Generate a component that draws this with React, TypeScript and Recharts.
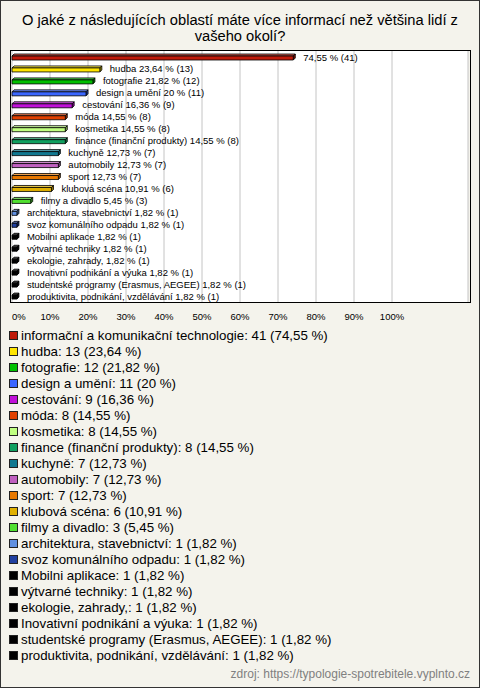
import React from 'react';
import { BarChart, Bar, XAxis, YAxis, CartesianGrid, LabelList } from 'recharts';

const categories = [
  'informační a komunikační technologie',
  'hudba',
  'fotografie',
  'design a umění',
  'cestování',
  'móda',
  'kosmetika',
  'finance (finanční produkty)',
  'kuchyně',
  'automobily',
  'sport',
  'klubová scéna',
  'filmy a divadlo',
  'architektura, stavebnictví',
  'svoz komunálního odpadu',
  'Mobilni aplikace',
  'výtvarné techniky',
  'ekologie, zahrady,',
  'Inovativní podnikání a výuka',
  'studentské programy (Erasmus, AEGEE)',
  'produktivita, podnikání, vzdělávání',
];

const counts = [41, 13, 12, 11, 9, 8, 8, 8, 7, 7, 7, 6, 3, 1, 1, 1, 1, 1, 1, 1, 1];

const percents = [
  74.55, 23.64, 21.82, 20, 16.36, 14.55, 14.55, 14.55, 12.73, 12.73, 12.73, 10.91, 5.45, 1.82, 1.82, 1.82,
  1.82, 1.82, 1.82, 1.82, 1.82,
];

const colors = [
  '#c01a0a', '#ffe500', '#00c000', '#3a66ff', '#c010d8', '#e04000', '#c0ff80', '#10a060', '#107890',
  '#c060c0', '#e87800', '#e0b000', '#50e030', '#6090e0', '#2040a0', '#000000', '#000000', '#000000',
  '#000000', '#000000', '#000000',
];

const xTicks = [0, 10, 20, 30, 40, 50, 60, 70, 80, 90, 100];

const FONT = '"Liberation Sans", Arial, sans-serif';

const data = categories.map((name, i) => ({ name, value: percents[i], count: counts[i], color: colors[i] }));

const fmt = (v: number) => String(v).replace('.', ',');

// mix a hex colour toward white (amt > 0) or black (amt < 0)
const shade = (hex: string, amt: number) => {
  const n = parseInt(hex.slice(1), 16);
  const ch = [(n >> 16) & 255, (n >> 8) & 255, n & 255].map((c) =>
    Math.round(amt > 0 ? c + (255 - c) * amt : c * (1 + amt))
  );
  return `rgb(${ch.join(',')})`;
};

const Bar3D = (props: any) => {
  const { x, y, width, height, index } = props;
  const color = colors[index] ?? '#000';
  const d = 2;
  const w = Math.max(width, d + 1);
  return (
    <g stroke="#000" strokeWidth={0.8} strokeLinejoin="round">
      <polygon
        points={`${x},${y + d} ${x + d},${y} ${x + w},${y} ${x + w - d},${y + d}`}
        fill={shade(color, 0.3)}
      />
      <polygon
        points={`${x + w - d},${y + d} ${x + w},${y} ${x + w},${y + height - d} ${x + w - d},${y + height}`}
        fill={shade(color, -0.35)}
      />
      <rect x={x} y={y + d} width={w - d} height={height - d} fill={color} />
    </g>
  );
};

const BarLabel = (props: any) => {
  const { x, y, width, height, index } = props;
  const text =
    index === 0
      ? `${fmt(percents[index])} % (${counts[index]})`
      : `${categories[index]} ${fmt(percents[index])} % (${counts[index]})`;
  return (
    <text x={x + width + 8} y={y + height / 2} dominantBaseline="central" fontSize={9.5} fontFamily={FONT} fill="#000">
      {text}
    </text>
  );
};

const Tick = (props: any) => {
  const { x, y, payload } = props;
  return (
    <text
      x={x}
      y={y}
      dy="0.71em"
      textAnchor={payload.value === 0 ? 'start' : 'middle'}
      fontSize={9.5}
      fontFamily={FONT}
      fill="#000"
    >
      {payload.value}%
    </text>
  );
};

export default function App() {
  return (
    <div
      style={{
        position: 'absolute',
        left: 0,
        top: 0,
        width: 480,
        height: 688,
        background: '#f4f3ec',
        fontFamily: FONT,
        overflow: 'hidden',
      }}
    >
      <div
        style={{
          position: 'absolute',
          left: 0,
          top: 12,
          width: 480,
          textAlign: 'center',
          fontSize: 14.7,
          lineHeight: '16px',
          color: '#000',
        }}
      >
        O jaké z následujících oblastí máte více informací než většina lidí z
        <br />
        vašeho okolí?
      </div>

      <div style={{ position: 'absolute', left: 0, top: 0 }}>
        <BarChart
          width={480}
          height={340}
          data={data}
          layout="vertical"
          margin={{ top: 51, right: 12, left: 12, bottom: 8 }}
        >
          <CartesianGrid horizontal={false} stroke="#c4c4c4" fill="#ffffff" />
          <XAxis
            type="number"
            domain={[0, 120]}
            ticks={xTicks}
            axisLine={false}
            tickLine={false}
            tickMargin={5}
            height={30}
            tick={<Tick />}
          />
          <YAxis type="category" dataKey="name" hide />
          <Bar dataKey="value" barSize={6} shape={<Bar3D />} isAnimationActive={false}>
            <LabelList dataKey="value" content={<BarLabel />} />
          </Bar>
        </BarChart>
      </div>

      {/* plot frame */}
      <div
        style={{
          position: 'absolute',
          left: 10,
          top: 50,
          width: 461,
          height: 253,
          border: '1px solid #000',
          boxSizing: 'border-box',
          pointerEvents: 'none',
        }}
      />

      <div style={{ position: 'absolute', left: 9, top: 328 }}>
        {data.map((d) => (
          <div
            key={d.name}
            style={{ height: 16, lineHeight: '16px', fontSize: 13.3, color: '#000', whiteSpace: 'nowrap' }}
          >
            <span
              style={{
                display: 'inline-block',
                width: 7,
                height: 7,
                background: d.color,
                border: '1px solid #222',
                marginRight: 3,
                verticalAlign: 'middle',
                position: 'relative',
                top: -1,
              }}
            />
            {`${d.name}: ${d.count} (${fmt(d.value)} %)`}
          </div>
        ))}
      </div>

      <div
        style={{
          position: 'absolute',
          right: 10,
          top: 667,
          fontSize: 12,
          color: '#808080',
          whiteSpace: 'nowrap',
        }}
      >
        zdroj: https://typologie-spotrebitele.vyplnto.cz
      </div>

      <div
        style={{
          position: 'absolute',
          left: 0,
          top: 0,
          width: 480,
          height: 688,
          border: '1px solid #333',
          boxSizing: 'border-box',
          pointerEvents: 'none',
        }}
      />
    </div>
  );
}
